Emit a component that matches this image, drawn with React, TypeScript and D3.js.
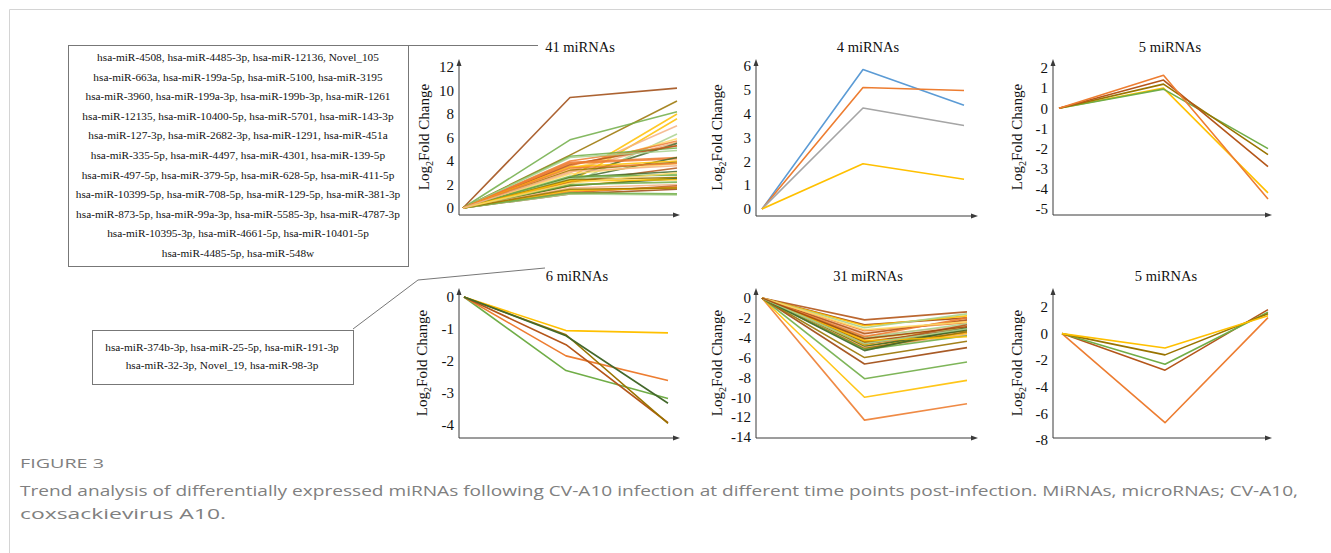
import * as d3 from 'd3'

// colour names used by the series
const C: Record<string, string> = {
  orange: '#ed7d31',
  yellow: '#ffc000',
  green: '#70ad47',
  blue: '#5b9bd5',
  gray: '#a5a5a5',
  darkbrown: '#9e480e',
  brown: '#b4561a',
  olive: '#997300',
  darkgreen: '#43682b',
  lightorange: '#f4b183',
  lightgreen: '#a9d18e',
  lightyellow: '#ffd966',
}

// ---- 41 miRNAs (up, up) ----
const up41Values: number[][] = [
  [0, 9.4, 10.2], [0, 4.5, 9.1], [0, 5.8, 8.2], [0, 2.6, 8.0], [0, 2.2, 7.6],
  [0, 3.0, 7.0], [0, 2.0, 6.3], [0, 3.3, 5.9], [0, 3.6, 5.7], [0, 3.2, 5.6],
  [0, 2.6, 5.5], [0, 4.0, 5.3], [0, 4.4, 5.1], [0, 3.7, 5.3], [0, 4.3, 4.9],
  [0, 3.9, 4.3], [0, 3.8, 4.2], [0, 2.4, 4.3], [0, 3.5, 4.0], [0, 3.2, 3.9],
  [0, 2.9, 3.8], [0, 2.2, 3.4], [0, 2.6, 3.1], [0, 3.4, 3.8], [0, 1.9, 2.6],
  [0, 2.5, 2.9], [0, 2.7, 2.8], [0, 2.4, 2.6], [0, 1.9, 2.5], [0, 2.0, 2.2],
  [0, 1.7, 2.0], [0, 2.3, 2.4], [0, 1.3, 1.9], [0, 1.4, 1.8], [0, 1.2, 1.6],
  [0, 1.5, 1.7], [0, 1.2, 1.1], [0, 1.3, 1.2], [0, 1.6, 1.7], [0, 2.1, 3.0],
  [0, 3.1, 3.6],
]
const up41Colors = [
  'darkbrown', 'olive', 'green', 'yellow', 'yellow',
  'lightorange', 'lightgreen', 'lightyellow', 'orange', 'lightorange',
  'darkgreen', 'orange', 'green', 'brown', 'lightgreen',
  'orange', 'orange', 'darkgreen', 'yellow', 'olive',
  'lightyellow', 'brown', 'darkgreen', 'orange', 'yellow',
  'lightgreen', 'green', 'olive', 'darkgreen', 'green',
  'lightorange', 'yellow', 'brown', 'orange', 'darkbrown',
  'yellow', 'lightgreen', 'green', 'olive', 'lightyellow',
  'lightorange',
]

// ---- 4 miRNAs (up, down) ----
const up4Values: number[][] = [
  [0, 5.85, 4.35], [0, 5.1, 4.97], [0, 4.24, 3.5], [0, 1.9, 1.25],
]
const up4Colors = ['blue', 'orange', 'gray', 'yellow']

// ---- 5 miRNAs (up, down) ----
const upDown5Values: number[][] = [
  [0, 1.0, -4.2], [0, 0.95, -2.0], [0, 1.2, -2.3], [0, 1.4, -2.9], [0, 1.64, -4.5],
]
const upDown5Colors = ['yellow', 'green', 'olive', 'brown', 'orange']

// ---- 6 miRNAs (down, down) ----
const down6Values: number[][] = [
  [0, -1.05, -1.12], [0, -2.3, -3.17], [0, -1.84, -2.61],
  [0, -1.49, -3.93], [0, -1.18, -3.95], [0, -1.21, -3.32],
]
const down6Colors = ['yellow', 'green', 'orange', 'brown', 'olive', 'darkgreen']

// ---- 31 miRNAs (down, up) ----
const down31Values: number[][] = [
  [0, -12.3, -10.65], [0, -10.0, -8.3], [0, -8.13, -6.45], [0, -6.65, -5.0], [0, -6.0, -4.35],
  [0, -2.2, -1.4], [0, -2.7, -2.0], [0, -2.8, -1.8], [0, -3.0, -1.6], [0, -3.3, -2.5],
  [0, -3.5, -2.3], [0, -3.8, -2.8], [0, -4.0, -2.6], [0, -4.1, -3.0], [0, -4.2, -2.9],
  [0, -4.4, -3.1], [0, -4.5, -3.3], [0, -4.6, -3.5], [0, -4.7, -2.7], [0, -4.8, -3.6],
  [0, -4.9, -3.2], [0, -5.0, -3.7], [0, -5.1, -3.4], [0, -5.2, -3.8], [0, -5.3, -3.0],
  [0, -3.6, -2.2], [0, -4.3, -3.9], [0, -3.9, -2.0], [0, -4.6, -3.1], [0, -3.2, -2.4],
  [0, -4.1, -2.9],
]
const down31Colors = [
  'orange', 'yellow', 'green', 'darkbrown', 'olive',
  'brown', 'darkbrown', 'yellow', 'lightgreen', 'orange',
  'lightorange', 'lightorange', 'lightgreen', 'green', 'lightyellow',
  'darkbrown', 'olive', 'orange', 'brown', 'yellow',
  'darkgreen', 'lightorange', 'olive', 'green', 'darkgreen',
  'brown', 'yellow', 'orange', 'lightgreen', 'lightyellow',
  'darkbrown',
]

// ---- 5 miRNAs (down, up) ----
const downUp5Values: number[][] = [
  [0, -6.7, 1.2], [0, -2.75, 1.8], [0, -2.3, 1.6], [0, -1.6, 1.5], [0, -1.08, 1.35],
]
const downUp5Colors = ['orange', 'brown', 'green', 'olive', 'yellow']

const list41 = [
  'hsa-miR-4508, hsa-miR-4485-3p, hsa-miR-12136, Novel_105',
  'hsa-miR-663a, hsa-miR-199a-5p, hsa-miR-5100, hsa-miR-3195',
  'hsa-miR-3960, hsa-miR-199a-3p, hsa-miR-199b-3p, hsa-miR-1261',
  'hsa-miR-12135, hsa-miR-10400-5p, hsa-miR-5701, hsa-miR-143-3p',
  'hsa-miR-127-3p, hsa-miR-2682-3p, hsa-miR-1291, hsa-miR-451a',
  'hsa-miR-335-5p, hsa-miR-4497, hsa-miR-4301, hsa-miR-139-5p',
  'hsa-miR-497-5p, hsa-miR-379-5p, hsa-miR-628-5p, hsa-miR-411-5p',
  'hsa-miR-10399-5p, hsa-miR-708-5p, hsa-miR-129-5p, hsa-miR-381-3p',
  'hsa-miR-873-5p, hsa-miR-99a-3p, hsa-miR-5585-3p, hsa-miR-4787-3p',
  'hsa-miR-10395-3p, hsa-miR-4661-5p, hsa-miR-10401-5p',
  'hsa-miR-4485-5p, hsa-miR-548w',
]
const list6 = [
  'hsa-miR-374b-3p, hsa-miR-25-5p, hsa-miR-191-3p',
  'hsa-miR-32-3p, Novel_19, hsa-miR-98-3p',
]

const serif = { fontFamily: '"Liberation Serif", "DejaVu Serif", serif' }
const sans = { fontFamily: '"Open Sans", "Noto Sans", sans-serif' }
const axisColor = '#3a3a3a'

type PanelProps = {
  title: string
  titleX: number
  values: number[][]
  colors: string[]
  ticks: number[]
  domain: [number, number]
  yRange: [number, number]
  x0: number
  x2: number
  axisX: number
  baseY: number
  topY: number
  endX: number
  labelX: number
  opacity?: number
}

function Panel(p: PanelProps) {
  const x = d3.scalePoint<number>().domain([0, 1, 2]).range([p.x0, p.x2])
  const y = d3.scaleLinear().domain(p.domain).range(p.yRange)
  const line = d3.line<number>().x((_, i) => x(i) as number).y(d => y(d))
  const midY = (p.topY + p.baseY) / 2
  return (
    <g>
      <text x={p.titleX} y={p.topY - 7} textAnchor="middle" style={serif}
        fontSize={14.5} fill="#111">{p.title}</text>
      {p.values.map((v, i) => (
        <path key={i} d={line(v) || ''} fill="none" stroke={C[p.colors[i]]}
          strokeWidth={1.6} strokeOpacity={p.opacity ?? 1} strokeLinejoin="round" />
      ))}
      <line x1={p.axisX} x2={p.axisX} y1={p.baseY} y2={p.topY + 4} stroke={axisColor} strokeWidth={1} />
      <path d={`M${p.axisX},${p.topY} l-2.5,7 h5 z`} fill={axisColor} />
      <line x1={p.axisX} x2={p.endX - 4} y1={p.baseY} y2={p.baseY} stroke={axisColor} strokeWidth={1} />
      <path d={`M${p.endX},${p.baseY} l-7,-2.5 v5 z`} fill={axisColor} />
      {p.ticks.map(t => (
        <text key={t} x={p.axisX - 5} y={y(t)} dy="0.35em" textAnchor="end" style={serif}
          fontSize={15} fill="#111">{t}</text>
      ))}
      <text transform={`translate(${p.labelX},${midY}) rotate(-90)`} textAnchor="middle"
        style={serif} fontSize={15} fill="#111">
        Log<tspan fontSize={10} dy={4}>2</tspan><tspan dy={-4}>Fold Change</tspan>
      </text>
    </g>
  )
}

export default function App() {
  return (
    <svg width={1331} height={553} style={{ position: 'absolute', left: 0, top: 0, background: '#fff' }}>
      {/* frame */}
      <line x1={9.5} x2={1331} y1={9.5} y2={9.5} stroke="#d4d4d4" />
      <line x1={9.5} x2={9.5} y1={9.5} y2={553} stroke="#d4d4d4" />

      {/* miRNA list boxes */}
      <rect x={68.5} y={45.5} width={340} height={221} fill="none" stroke="#777" />
      {list41.map((s, i) => (
        <text key={i} x={238} y={61 + i * 19.6} textAnchor="middle" style={serif}
          fontSize={11.3} fill="#111">{s}</text>
      ))}
      <line x1={409} x2={538} y1={45.5} y2={45.5} stroke="#777" />
      <rect x={92.5} y={330.5} width={261} height={54} fill="none" stroke="#777" />
      {list6.map((s, i) => (
        <text key={i} x={222} y={351 + i * 18} textAnchor="middle" style={serif}
          fontSize={11.3} fill="#111">{s}</text>
      ))}
      <polyline points="353,329 418,280 545,268" fill="none" stroke="#777" />

      <Panel title="41 miRNAs" titleX={580} values={up41Values} colors={up41Colors}
        ticks={d3.range(0, 13, 2)} domain={[0, 12]} yRange={[208, 67]}
        x0={463} x2={677} axisX={459} baseY={215} topY={59} endX={680} labelX={429} opacity={0.85} />
      <Panel title="4 miRNAs" titleX={868} values={up4Values} colors={up4Colors}
        ticks={d3.range(0, 7)} domain={[0, 6]} yRange={[209, 66]}
        x0={762} x2={964} axisX={756} baseY={216} topY={59} endX={978} labelX={722} />
      <Panel title="5 miRNAs" titleX={1170} values={upDown5Values} colors={upDown5Colors}
        ticks={d3.range(-5, 3)} domain={[-5, 2]} yRange={[209, 68]}
        x0={1059} x2={1268} axisX={1053} baseY={215} topY={59} endX={1272} labelX={1022} />
      <Panel title="6 miRNAs" titleX={577} values={down6Values} colors={down6Colors}
        ticks={d3.range(-4, 1)} domain={[-4, 0]} yRange={[425, 297]}
        x0={464} x2={668} axisX={459} baseY={438} topY={288} endX={680} labelX={427} />
      <Panel title="31 miRNAs" titleX={868} values={down31Values} colors={down31Colors}
        ticks={d3.range(-14, 1, 2)} domain={[-14, 0]} yRange={[437, 298]}
        x0={762} x2={967} axisX={756} baseY={438} topY={288} endX={978} labelX={722} opacity={0.9} />
      <Panel title="5 miRNAs" titleX={1166} values={downUp5Values} colors={downUp5Colors}
        ticks={d3.range(-8, 3, 2)} domain={[-8, 2]} yRange={[440, 307]}
        x0={1062} x2={1268} axisX={1053} baseY={438} topY={288} endX={1272} labelX={1022} />

      {/* caption */}
      <text x={20} y={468} style={sans} fontSize={13} fill="#808080"
        textLength={84} lengthAdjust="spacingAndGlyphs">FIGURE 3</text>
      <text x={20} y={496} style={sans} fontSize={15} fill="#808080"
        textLength={1278} lengthAdjust="spacingAndGlyphs">
        Trend analysis of differentially expressed miRNAs following CV-A10 infection at different time points post-infection. MiRNAs, microRNAs; CV-A10,
      </text>
      <text x={20} y={519} style={sans} fontSize={15} fill="#808080"
        textLength={206} lengthAdjust="spacingAndGlyphs">coxsackievirus A10.</text>
    </svg>
  )
}
